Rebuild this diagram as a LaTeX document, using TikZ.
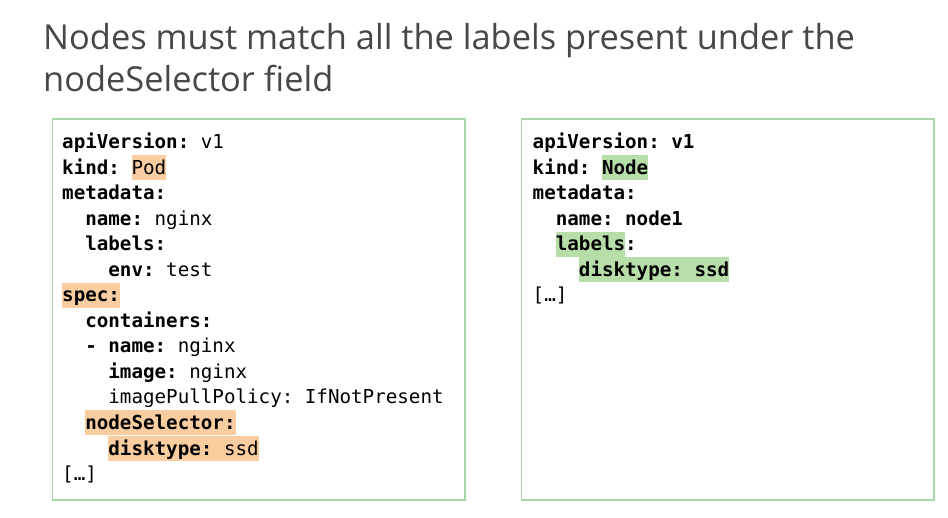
\documentclass[tikz,border=0pt]{standalone}
\usepackage{fontspec}
\setmainfont{Open Sans}
\newfontfamily\codefont{DejaVu Sans Mono}
\definecolor{titlegray}{HTML}{45474A}
\definecolor{boxgreen}{HTML}{A6D8A8}
\definecolor{hlorange}{HTML}{F9CDA0}
\definecolor{hlgreen}{HTML}{B7DDA9}
\newcommand{\hlstrut}{\rule[-5.7pt]{0pt}{25pt}}
\newcommand{\hlo}[1]{{\setlength{\fboxsep}{0pt}\colorbox{hlorange}{\hlstrut#1}}}
\newcommand{\hlg}[1]{{\setlength{\fboxsep}{0pt}\colorbox{hlgreen}{\hlstrut#1}}}
\begin{document}
\begin{tikzpicture}[x=1pt,y=-1pt,
  titletext/.style={anchor=base west,inner sep=0pt,font=\fontsize{34.4}{40}\selectfont,text=titlegray},
  code/.style={anchor=base west,inner sep=0pt,font=\codefont\fontsize{19.2}{25.5}\selectfont\frenchspacing,text=black},
  panel/.style={draw=boxgreen,line width=1.3pt}]
\useasboundingbox[fill=white] (0,0) rectangle (948,518);
% panels
\draw[panel] (52.7,119) rectangle (465,500);
\draw[panel] (521.7,119) rectangle (934,500);
% title
\node[titletext] (t1) at (43,49.3) {Nodes must match all the labels present under the};
\node[titletext] (t2) at (43,91.7) {nodeSelector field};
% left code (cw = 11.56)
\node[code] (l0) at (62,149) {\textbf{apiVersion:} v1};
\node[code] (l1) at (62,174.5) {\textbf{kind:} \hlo{Pod}};
\node[code] (l2) at (62,200) {\textbf{metadata:}};
\node[code] (l3) at (85.12,225.5) {\textbf{name:} nginx};
\node[code] (l4) at (85.12,251) {\textbf{labels:}};
\node[code] (l5) at (108.24,276.5) {\textbf{env:} test};
\node[code] (l6) at (62,302) {\hlo{\textbf{spec:}}};
\node[code] (l7) at (85.12,327.5) {\textbf{containers:}};
\node[code] (l8) at (85.12,353) {\textbf{- name:} nginx};
\node[code] (l9) at (108.24,378.5) {\textbf{image:} nginx};
\node[code] (l10) at (108.24,404) {imagePullPolicy: IfNotPresent};
\node[code] (l11) at (85.12,429.5) {\hlo{\textbf{nodeSelector:}}};
\node[code] (l12) at (108.24,455) {\hlo{\textbf{disktype:} ssd}};
\node[code] (l13) at (62,480.5) {[…]};
% right code
\node[code] (r0) at (532.5,149) {\textbf{apiVersion: v1}};
\node[code] (r1) at (532.5,174.5) {\textbf{kind: \hlg{Node}}};
\node[code] (r2) at (532.5,200) {\textbf{metadata:}};
\node[code] (r3) at (555.62,225.5) {\textbf{name: node1}};
\node[code] (r4) at (555.62,251) {\textbf{\hlg{labels}:}};
\node[code] (r5) at (578.74,276.5) {\hlg{\textbf{disktype: ssd}}};
\node[code] (r6) at (532.5,302) {[…]};
\end{tikzpicture}
\end{document}
